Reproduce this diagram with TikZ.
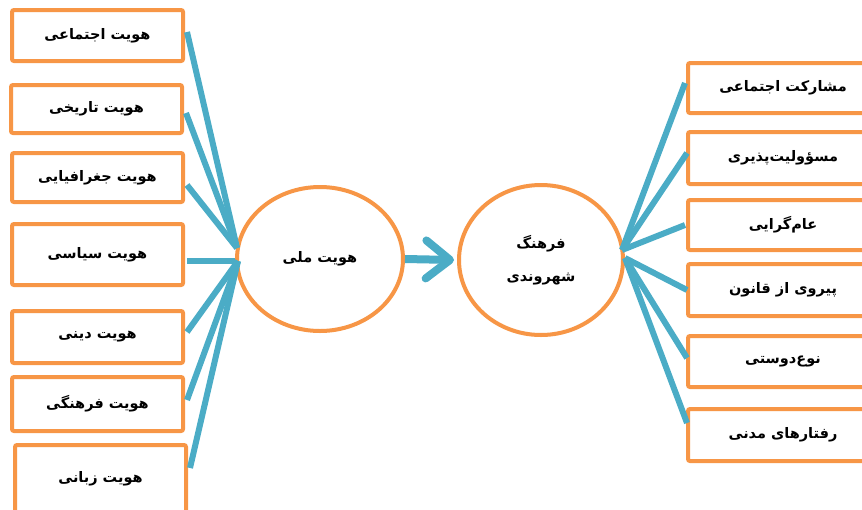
\documentclass[tikz,border=0pt]{standalone}
\usepackage{fontspec}
\newfontfamily\arabicfont[Script=Arabic]{DejaVu Sans}
\TeXXeTstate=1
\usetikzlibrary{arrows.meta,shapes.geometric}
\definecolor{orng}{HTML}{F79646}
\definecolor{blu}{HTML}{4BACC6}
\newcommand{\fa}[1]{{\arabicfont\bfseries\fontsize{14.5}{17}\selectfont\beginR #1\endR}}
\tikzset{
  box/.style={draw=orng, line width=4pt, fill=white, rounded corners=2pt,
    inner sep=0pt, minimum width=171pt, minimum height=50pt},
  rbox/.style={box, minimum width=190pt},
  oval/.style={ellipse, draw=orng, line width=4pt, fill=white, inner sep=0pt, align=center},
  bar/.style={draw=blu, line width=6pt},
  bigarrow/.style={draw=blu, line width=8pt, -{Straight Barb[length=24pt,width=38pt,round]}}
}
\begin{document}
\begin{tikzpicture}[x=1pt,y=-1pt]
\useasboundingbox (0,0) rectangle (862,509);
\clip (0,0) rectangle (862,509);
% left boxes
\node[box, minimum height=51pt] (l1) at (97.5,35.5) {\fa{هویت اجتماعی}};
\node[box, minimum height=48pt] (l2) at (96.5,109) {\fa{هویت تاریخی}};
\node[box, minimum height=49pt] (l3) at (97.5,177.5) {\fa{هویت جغرافیایی}};
\node[box, minimum height=61pt] (l4) at (97.5,254.5) {\fa{هویت سیاسی}};
\node[box, minimum height=52pt] (l5) at (97.5,337) {\fa{هویت دینی}};
\node[box, minimum height=54pt] (l6) at (97.5,404) {\fa{هویت فرهنگی}};
\node[box, minimum height=68pt] (l7) at (100.5,479) {\fa{هویت زبانی}};
% ellipses
\node[oval, minimum width=166pt, minimum height=144pt] (e1) at (320,259) {\fa{هویت ملی}};
\node[oval, minimum width=164pt, minimum height=150pt] (e2) at (541,260) {\fa{فرهنگ}\\[20pt]\fa{شهروندی}};
% right boxes
\node[rbox, minimum height=50pt] (r1) at (783,88) {\fa{مشارکت اجتماعی}};
\node[rbox, minimum height=52pt] (r2) at (783,158) {\fa{مسؤولیت‌پذیری}};
\node[rbox, minimum height=50pt] (r3) at (783,225) {\fa{عام‌گرایی}};
\node[rbox, minimum height=52pt] (r4) at (783,290) {\fa{پیروی از قانون}};
\node[rbox, minimum height=51pt] (r5) at (783,361.5) {\fa{نوع‌دوستی}};
\node[rbox, minimum height=52pt] (r6) at (783,435) {\fa{رفتارهای مدنی}};
% convergence points
\coordinate (cl1) at ([xshift=2pt,yshift=11pt]e1.west);
\coordinate (cl2) at ([xshift=3pt,yshift=-2pt]e1.west);
\coordinate (cr1) at ([xshift=-3pt,yshift=10pt]e2.east);
\coordinate (cr2) at ([yshift=2pt]e2.east);
% left bars
\draw[bar] ([xshift=2pt,yshift=3.5pt]l1.east) -- (cl1);
\draw[bar] ([xshift=2pt,yshift=-4pt]l2.east) -- (cl1);
\draw[bar] ([xshift=2pt,yshift=-7.5pt]l3.east) -- (cl1);
\draw[bar] ([xshift=2pt,yshift=-6.5pt]l4.east) -- ([yshift=-2pt]e1.west);
\draw[bar] ([xshift=2pt,yshift=5pt]l5.east) -- (cl2);
\draw[bar] ([xshift=2pt,yshift=4pt]l6.east) -- (cl2);
\draw[bar] ([xshift=2pt,yshift=11pt]l7.east) -- (cl2);
% right bars
\draw[bar] (cr1) -- ([xshift=-1pt,yshift=5pt]r1.west);
\draw[bar] (cr1) -- ([xshift=1pt,yshift=5pt]r2.west);
\draw[bar] (cr1) -- ([xshift=-1pt]r3.west);
\draw[bar] (cr2) -- ([xshift=1pt]r4.west);
\draw[bar] (cr2) -- ([xshift=1pt,yshift=3.5pt]r5.west);
\draw[bar] (cr2) -- ([xshift=1pt,yshift=12pt]r6.west);
% middle arrow
\draw[bigarrow] (e1.east) -- ([xshift=-3pt]e2.west);
\end{tikzpicture}
\end{document}
